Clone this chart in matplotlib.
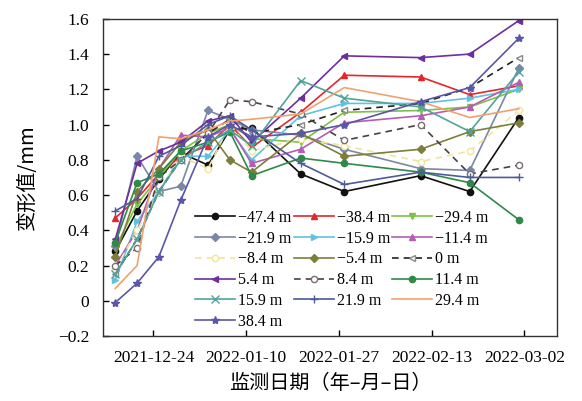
import matplotlib
matplotlib.use("Agg")
import matplotlib.pyplot as plt
import matplotlib.dates as mdates
from matplotlib.ticker import FuncFormatter
import pandas as pd

# Monitoring dates
dates = ["2021-12-17", "2021-12-21", "2021-12-25", "2021-12-29", "2022-01-03",
         "2022-01-07", "2022-01-11", "2022-01-20", "2022-01-28", "2022-02-11",
         "2022-02-20", "2022-03-01"]

# Deformation (mm) per measuring point
s_m47_4 = [0.28, 0.51, 0.69, 0.84, 0.77, 0.97, 0.98, 0.72, 0.62, 0.71, 0.62, 1.04]
s_m38_4 = [0.47, 0.58, 0.72, 0.82, 0.88, 1.00, 0.87, 1.07, 1.28, 1.27, 1.17, 1.22]
s_m29_4 = [0.30, 0.55, 0.70, 0.85, 0.95, 1.00, 0.92, 0.90, 1.07, 1.08, 1.10, 1.20]
s_m21_9 = [0.31, 0.82, 0.62, 0.65, 1.08, 1.03, 0.97, 0.94, 0.86, 0.75, 0.74, 1.32]
s_m15_9 = [0.12, 0.45, 0.62, 0.82, 0.82, 0.97, 0.80, 1.05, 1.12, 1.12, 1.15, 1.20]
s_m11_4 = [0.20, 0.40, 0.75, 0.94, 0.93, 0.98, 0.78, 0.86, 1.01, 1.05, 1.10, 1.24]
s_m8_4 = [0.18, 0.40, 0.62, 0.82, 0.75, 1.00, 0.85, 0.92, 0.88, 0.79, 0.85, 1.08]
s_m5_4 = [0.25, 0.62, 0.75, 0.90, 0.97, 0.80, 0.73, 0.95, 0.82, 0.86, 0.96, 1.01]
s_0 = [0.15, 0.35, 0.62, 0.80, 0.95, 1.03, 0.95, 1.00, 1.08, 1.12, 1.21, 1.38]
s_p5_4 = [0.35, 0.78, 0.85, 0.90, 1.02, 1.05, 0.90, 1.15, 1.39, 1.38, 1.40, 1.59]
s_p8_4 = [0.20, 0.30, 0.70, 0.80, 0.95, 1.14, 1.13, 1.06, 0.91, 1.00, 0.72, 0.77]
s_p11_4 = [0.33, 0.67, 0.72, 0.85, 0.90, 0.96, 0.71, 0.81, 0.78, 0.73, 0.67, 0.46]
s_p15_9 = [0.15, 0.35, 0.62, 0.80, 0.90, 0.97, 0.88, 1.25, 1.15, 1.10, 0.96, 1.30]
s_p21_9 = [0.51, 0.58, 0.82, 0.88, 1.00, 1.05, 0.97, 0.78, 0.66, 0.73, 0.70, 0.70]
s_p29_4 = [0.07, 0.20, 0.93, 0.92, 0.97, 1.02, 1.03, 1.06, 1.21, 1.13, 1.04, 1.09]
s_p38_4 = [-0.01, 0.10, 0.25, 0.57, 0.93, 1.00, 0.93, 0.95, 1.00, 1.13, 1.21, 1.49]

labels = ["−47.4 m", "−38.4 m", "−29.4 m", "−21.9 m", "−15.9 m", "−11.4 m",
          "−8.4 m", "−5.4 m", "0 m", "5.4 m", "8.4 m", "11.4 m",
          "15.9 m", "21.9 m", "29.4 m", "38.4 m"]
series = [s_m47_4, s_m38_4, s_m29_4, s_m21_9, s_m15_9, s_m11_4, s_m8_4, s_m5_4,
          s_0, s_p5_4, s_p8_4, s_p11_4, s_p15_9, s_p21_9, s_p29_4, s_p38_4]

x_ticks = ["2021-12-24", "2022-01-10", "2022-01-27", "2022-02-13", "2022-03-02"]

# (colour, marker, linestyle, marker face, marker edge)
styles = [
    ("#111111", "o", "-", "#111111", "#111111"),
    ("#E5262B", "^", "-", "#E5262B", "#E5262B"),
    ("#7CC245", "v", "-", "#7CC245", "#7CC245"),
    ("#7B87A6", "D", "-", "#7B87A6", "#7B87A6"),
    ("#5EC3DF", ">", "-", "#5EC3DF", "#5EC3DF"),
    ("#B45DB4", "^", "-", "#B45DB4", "#B45DB4"),
    ("#F0E59A", "o", (0, (4, 3)), "white", "#F0E59A"),
    ("#7E7E3C", "D", "-", "#7E7E3C", "#7E7E3C"),
    ("#222222", "<", (0, (4, 3)), "white", "#8A8A8A"),
    ("#6F2E9E", "<", "-", "#6F2E9E", "#6F2E9E"),
    ("#4A3F45", "o", (0, (4, 3)), "white", "#7A6F6F"),
    ("#2F8A48", "o", "-", "#2F8A48", "#2F8A48"),
    ("#52A39B", "x", "-", "#52A39B", "#52A39B"),
    ("#4D5B98", "+", "-", "#4D5B98", "#4D5B98"),
    ("#F2A070", "", "-", "#F2A070", "#F2A070"),
    ("#5A56A8", "*", "-", "#5A56A8", "#5A56A8"),
]

serif = ["Liberation Serif", "DejaVu Serif"]
cjk = ["Noto Sans CJK SC", "DejaVu Sans"]

x = pd.to_datetime(dates)

fig = plt.figure(figsize=(5.82, 4.01), dpi=100)
ax = fig.add_axes([0.177, 0.162, 0.780, 0.791])

handles = []
for vals, lab, (c, m, ls, mfc, mec) in zip(series, labels, styles):
    ms = 6 if m in ("*", "+", "x") else 4.5
    h, = ax.plot(x, vals, color=c, linestyle=ls, linewidth=1.2, marker=m,
                 markersize=ms, markerfacecolor=mfc, markeredgecolor=mec,
                 markeredgewidth=1.0, label=lab)
    handles.append(h)

ax.set_xlim(pd.Timestamp("2021-12-14 18:00"), pd.Timestamp("2022-03-08"))
ax.set_ylim(-0.2, 1.6)
ax.set_xticks(pd.to_datetime(x_ticks))
ax.xaxis.set_major_formatter(mdates.DateFormatter("%Y-%m-%d"))
ax.set_yticks([-0.2, 0, 0.2, 0.4, 0.6, 0.8, 1.0, 1.2, 1.4, 1.6])
ax.yaxis.set_major_formatter(FuncFormatter(
    lambda v, p: "0" if abs(v) < 1e-9 else ("%.1f" % v).replace("-", "−")))

ax.tick_params(direction="in", length=4, width=1, labelsize=12.5)
ax.tick_params(axis="x", pad=10)
ax.tick_params(axis="y", pad=10)
for t in ax.get_xticklabels() + ax.get_yticklabels():
    t.set_fontfamily(serif)
for sp in ax.spines.values():
    sp.set_linewidth(1.0)
    sp.set_color("#333333")

ax.set_ylabel("变形值/mm", fontsize=14.5, family=cjk, labelpad=14)
ax.set_xlabel("监测日期（年–月–日）", fontsize=14.5, family=cjk, labelpad=5)

# legend reads row by row across three columns
ncol = 3
order = [i for c in range(ncol) for i in range(c, len(handles), ncol)]
leg = ax.legend([handles[i] for i in order], [labels[i] for i in order],
                ncol=ncol, loc="lower left", bbox_to_anchor=(0.203, 0.02),
                frameon=False, prop={"family": serif, "size": 11.5},
                handlelength=2.5, handletextpad=0.2, columnspacing=0.12,
                labelspacing=0.3, borderpad=0, borderaxespad=0)

fig.savefig("out.png", dpi=100)
